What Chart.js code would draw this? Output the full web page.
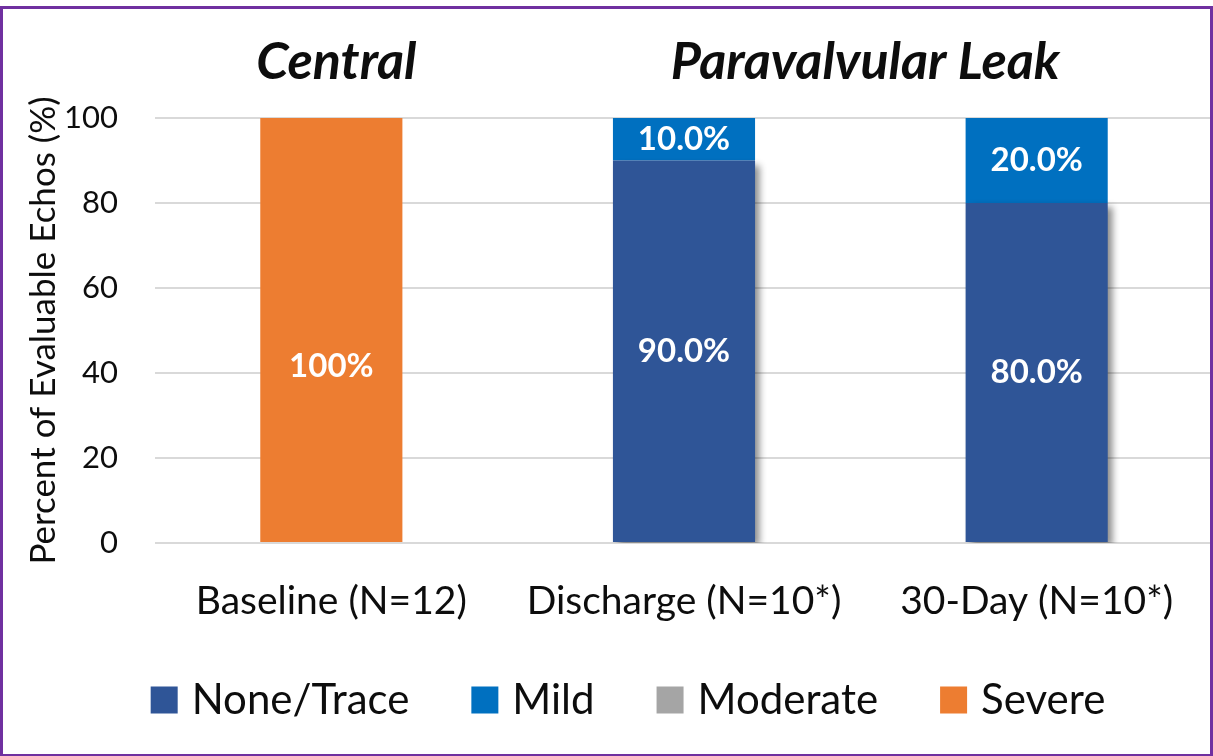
<!DOCTYPE html>
<html>
<head>
<meta charset="utf-8">
<title>Paravalvular Leak</title>
<script src="https://cdn.jsdelivr.net/npm/chart.js@4.4.1/dist/chart.umd.min.js"></script>
<style>
  html, body { margin: 0; padding: 0; background: #fff; overflow: hidden; }
  #wrap { position: relative; width: 1213px; height: 756px; }
  #frame {
    position: absolute; left: 0; top: 6px; width: 1213px; height: 750px;
    box-sizing: border-box; border: 3px solid #7030a0; border-bottom-width: 2px;
    pointer-events: none;
  }
</style>
</head>
<body>
<div id="wrap">
  <canvas id="echoChart" width="1213" height="756"></canvas>
  <div id="frame"></div>
</div>
<script>
// Data
const categories = ["Baseline (N=12)", "Discharge (N=10*)", "30-Day (N=10*)"];
const seriesNames = ["None/Trace", "Mild", "Moderate", "Severe"];
const noneTrace = [0, 90, 80];
const mild = [0, 10, 20];
const moderate = [0, 0, 0];
const severe = [100, 0, 0];
const yTicks = [0, 20, 40, 60, 80, 100];
const groupTitles = ["Central", "Paravalvular Leak"];
const groupFirst = [0, 1];
const groupLast = [0, 2];

const colors = ["#2f5597", "#0070c0", "#a5a5a5", "#ed7d31"];
const textColor = "#0d0d0d";

Chart.defaults.font.family = "Lato, 'Open Sans', sans-serif";
Chart.defaults.color = textColor;

function fmtPct(v) {
  return v === 100 ? "100%" : v.toFixed(1) + "%";
}

// Drop shadow on the None/Trace bars only
const barShadow = {
  id: "barShadow",
  beforeDatasetDraw(chart, args) {
    if (args.index !== 0) return;
    const ctx = chart.ctx;
    ctx.save();
    ctx.shadowColor = "rgba(0,0,0,0.45)";
    ctx.shadowBlur = 7;
    ctx.shadowOffsetX = 5;
    ctx.shadowOffsetY = 4;
  },
  afterDatasetDraw(chart, args) {
    if (args.index === 0) chart.ctx.restore();
  }
};

// White value labels in the middle of each segment
const barLabels = {
  id: "barLabels",
  afterDatasetsDraw(chart, args, opts) {
    const ctx = chart.ctx;
    ctx.save();
    ctx.font = opts.font;
    ctx.fillStyle = "#fff";
    ctx.textAlign = "center";
    ctx.textBaseline = "middle";
    chart.data.datasets.forEach((ds, i) => {
      chart.getDatasetMeta(i).data.forEach((bar, j) => {
        const v = ds.data[j];
        if (!v) return;
        const p = bar.getProps(["x", "y", "base"], true);
        const dy = (i === opts.nudgeDataset && j === opts.nudgeIndex) ? opts.nudgeY : 0;
        ctx.fillText(fmtPct(v), p.x, (p.y + p.base) / 2 + dy);
      });
    });
    ctx.restore();
  }
};

// Group headings above the bars
const groupHeads = {
  id: "groupHeads",
  afterDraw(chart, args, opts) {
    const ctx = chart.ctx;
    const xs = chart.scales.x;
    ctx.save();
    ctx.font = opts.font;
    ctx.fillStyle = textColor;
    ctx.textAlign = "center";
    ctx.textBaseline = "middle";
    groupTitles.forEach((t, g) => {
      const x = (xs.getPixelForValue(groupFirst[g]) + xs.getPixelForValue(groupLast[g])) / 2;
      ctx.fillText(t, x + opts.dx, opts.y);
    });
    ctx.restore();
  }
};

// Legend row at the bottom
const legendRow = {
  id: "legendRow",
  afterDraw(chart, args, opts) {
    const ctx = chart.ctx;
    ctx.save();
    ctx.font = opts.font;
    ctx.textBaseline = "middle";
    const items = chart.data.datasets.map(ds => ({
      text: ds.label, color: ds.backgroundColor, w: ctx.measureText(ds.label).width
    }));
    const total = items.reduce((s, it) => s + opts.box + opts.boxGap + it.w, 0) + opts.itemGap * (items.length - 1);
    let x = opts.centerX - total / 2;
    items.forEach(it => {
      ctx.fillStyle = it.color;
      ctx.fillRect(x, opts.y - opts.box / 2, opts.box, opts.box);
      x += opts.box + opts.boxGap;
      ctx.fillStyle = textColor;
      ctx.fillText(it.text, x, opts.y);
      x += it.w + opts.itemGap;
    });
    ctx.restore();
  }
};

const ctx = document.getElementById("echoChart").getContext("2d");
new Chart(ctx, {
  type: "bar",
  data: {
    labels: categories,
    datasets: [noneTrace, mild, moderate, severe].map((d, i) => ({
      label: seriesNames[i],
      data: d,
      backgroundColor: colors[i],
      borderWidth: 0,
      categoryPercentage: 1,
      barPercentage: 0.403
    }))
  },
  options: {
    responsive: false,
    animation: false,
    layout: { padding: { top: 118, right: 0, bottom: 132, left: 0 } },
    plugins: {
      legend: { display: false },
      tooltip: { enabled: false },
      barLabels: { font: "bold 33px Lato", nudgeDataset: 3, nudgeIndex: 0, nudgeY: 36 },
      groupHeads: { font: "italic bold 52px Lato", y: 62, dx: 5 },
      legendRow: { font: "42px Lato", centerX: 628, y: 700, box: 27, boxGap: 14, itemGap: 62 }
    },
    scales: {
      x: {
        stacked: true,
        grid: { display: false, drawTicks: false },
        border: { display: false },
        afterFit(scale) { scale.height = 81; },
        ticks: { font: { size: 39 }, color: textColor, padding: 35, maxRotation: 0, autoSkip: false }
      },
      y: {
        stacked: true,
        min: 0,
        max: 100,
        afterBuildTicks(scale) { scale.ticks = yTicks.map(v => ({ value: v })); },
        afterFit(scale) { scale.width = 155; },
        grid: { color: "#d9d9d9", lineWidth: 2, drawTicks: false },
        border: { display: false },
        ticks: { font: { size: 31 }, color: textColor, padding: 37 },
        title: {
          display: true,
          text: "Percent of Evaluable Echos (%)",
          font: { size: 35 },
          color: textColor,
          padding: { top: 23, bottom: 0 }
        }
      }
    }
  },
  plugins: [barShadow, barLabels, groupHeads, legendRow]
});
</script>
</body>
</html>
